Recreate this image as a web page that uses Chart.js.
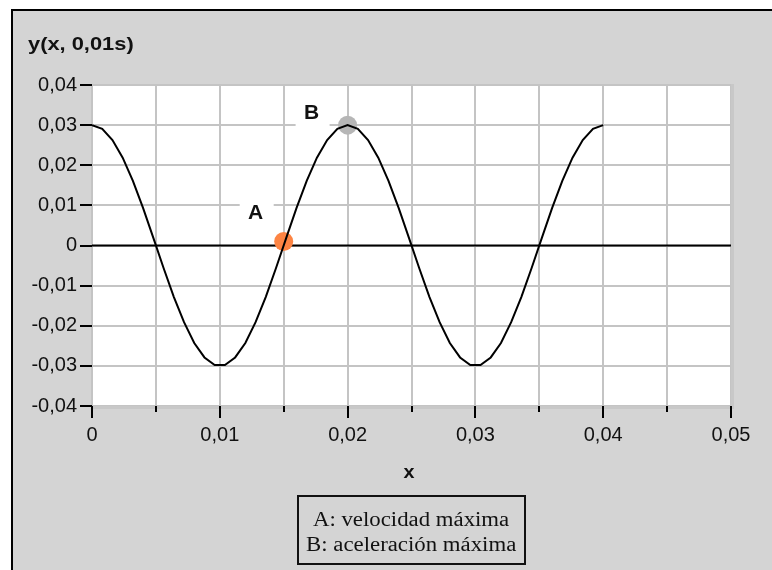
<!DOCTYPE html>
<html>
<head>
<meta charset="utf-8">
<script src="https://cdn.jsdelivr.net/npm/chart.js@4.4.1/dist/chart.umd.min.js"></script>
<style>
  html, body { margin: 0; padding: 0; background: #fff; }
  #frame { position: absolute; left: 11px; top: 9px; width: 761px; height: 561px;
           background: #d4d4d4; border-top: 2px solid #000; border-left: 2px solid #000; box-sizing: border-box; }
  #wrap { position: absolute; left: 0; top: 0; width: 772px; height: 570px; }
  .sans { font-family: "Liberation Sans", Arial, sans-serif; font-weight: bold; color: #111; position: absolute; white-space: nowrap; }
  #ytitle { left: 28px; top: 33px; font-size: 19px; transform: scaleX(1.15); transform-origin: left center; }
  #xtitle { left: 404px; top: 462px; font-size: 18px; transform: scaleX(1.1); }
  #note { position: absolute; left: 297px; top: 495px; width: 229px; height: 70px; box-sizing: border-box;
          border: 2px solid #111; padding-top: 10px; text-align: center;
          font-family: "Liberation Serif", "Times New Roman", serif; font-size: 20px; line-height: 25px; color: #111; }
  #note span { display: inline-block; transform: scaleX(1.14); white-space: nowrap; }
</style>
</head>
<body>
<div id="frame"></div>
<div id="wrap"><canvas id="waveChart"></canvas></div>
<div id="ytitle" class="sans">y(x, 0,01s)</div>
<div id="xtitle" class="sans">x</div>
<div id="note"></div>
<script>
// curve y(x, 0.01 s)
const xValues = [0, 0.0008, 0.0016, 0.0024, 0.0032, 0.004, 0.0048, 0.0056, 0.0064, 0.0072,
  0.008, 0.0088, 0.0096, 0.0104, 0.0112, 0.012, 0.0128, 0.0136, 0.0144, 0.0152,
  0.016, 0.0168, 0.0176, 0.0184, 0.0192, 0.02, 0.0208, 0.0216, 0.0224, 0.0232,
  0.024, 0.0248, 0.0256, 0.0264, 0.0272, 0.028, 0.0288, 0.0296, 0.0304, 0.0312,
  0.032, 0.0328, 0.0336, 0.0344, 0.0352, 0.036, 0.0368, 0.0376, 0.0384, 0.0392, 0.04];
const yValues = [0.03, 0.0291, 0.0263, 0.0219, 0.0161, 0.0093, 0.0019, -0.0056, -0.0128, -0.0191,
  -0.0243, -0.0279, -0.0298, -0.0298, -0.0279, -0.0243, -0.0191, -0.0128, -0.0056, 0.0019,
  0.0093, 0.0161, 0.0219, 0.0263, 0.0291, 0.03, 0.0291, 0.0263, 0.0219, 0.0161,
  0.0093, 0.0019, -0.0056, -0.0128, -0.0191, -0.0243, -0.0279, -0.0298, -0.0298, -0.0279,
  -0.0243, -0.0191, -0.0128, -0.0056, 0.0019, 0.0093, 0.0161, 0.0219, 0.0263, 0.0291, 0.03];

// marked points
const pointNames = ['A', 'B'];
const pointX = [0.015, 0.02];
const pointY = [0.001, 0.03];
const pointColors = ['#fd8443', '#b6b6b6'];

const noteLines = ['A: velocidad máxima', 'B: aceleración máxima'];

document.getElementById('note').innerHTML = noteLines.map(t => '<span>' + t + '</span>').join('<br>');

function fmt(v) {
  const m = Math.round(v * 100);
  if (m === 0) return '0';
  return (m / 100).toFixed(2).replace('.', ',');
}

const tickFont = { family: '"Liberation Sans", Arial, sans-serif', size: 20 };

const decor = {
  id: 'decor',
  beforeDraw(chart) {
    const { ctx, chartArea: a } = chart;
    ctx.save();
    ctx.fillStyle = '#fff';
    ctx.fillRect(a.left, a.top, a.right - a.left, a.bottom - a.top);
    ctx.restore();
  },
  beforeDatasetsDraw(chart) {
    const { ctx, chartArea: a, scales: { x, y } } = chart;
    ctx.save();
    // plot frame
    ctx.strokeStyle = '#c4c4c4';
    ctx.lineWidth = 2;
    ctx.strokeRect(a.left, a.top, a.right - a.left, a.bottom - a.top);
    ctx.fillStyle = '#c8c8c8';
    ctx.fillRect(a.right, a.top - 1, 3, a.bottom - a.top + 4);
    ctx.fillRect(a.left - 1, a.bottom, a.right - a.left + 4, 3);
    // zero line
    const y0 = y.getPixelForValue(0);
    ctx.strokeStyle = '#000';
    ctx.lineWidth = 2;
    ctx.beginPath();
    ctx.moveTo(a.left, y0);
    ctx.lineTo(a.right, y0);
    ctx.stroke();
    // point labels on white boxes
    const offsets = [[-28, -29], [-36, -13]];
    ctx.font = 'bold 21px "Liberation Sans", Arial, sans-serif';
    ctx.textAlign = 'center';
    ctx.textBaseline = 'middle';
    pointNames.forEach((name, i) => {
      const cx = x.getPixelForValue(pointX[i]) + offsets[i][0];
      const cy = y.getPixelForValue(pointY[i]) + offsets[i][1];
      ctx.fillStyle = '#fff';
      ctx.fillRect(cx - 16, cy - 14, 34, 28);
      ctx.fillStyle = '#111';
      ctx.fillText(name, cx, cy + 1);
    });
    ctx.restore();
  },
  afterDraw(chart) {
    const { ctx, chartArea: a, scales: { x, y } } = chart;
    ctx.save();
    ctx.strokeStyle = '#000';
    ctx.lineWidth = 2;
    ctx.beginPath();
    y.ticks.forEach(t => {
      const py = Math.round(y.getPixelForValue(t.value));
      ctx.moveTo(a.left - 12, py);
      ctx.lineTo(a.left, py);
    });
    x.ticks.forEach(t => {
      const px = Math.round(x.getPixelForValue(t.value));
      const major = Math.round(t.value * 1000) % 10 === 0;
      ctx.moveTo(px, a.bottom);
      ctx.lineTo(px, a.bottom + (major ? 12 : 6));
    });
    ctx.stroke();
    ctx.restore();
  }
};

new Chart(document.getElementById('waveChart').getContext('2d'), {
  type: 'scatter',
  data: {
    datasets: [{
      data: xValues.map((v, i) => ({ x: v, y: yValues[i] })),
      showLine: true,
      borderColor: '#000',
      borderWidth: 2,
      pointRadius: 0,
      tension: 0
    }, {
      data: pointX.map((v, i) => ({ x: v, y: pointY[i] })),
      showLine: false,
      pointRadius: 9.5,
      pointBackgroundColor: pointColors,
      pointBorderWidth: 0
    }]
  },
  options: {
    responsive: true,
    maintainAspectRatio: false,
    animation: false,
    layout: { padding: { top: 85, right: 41, bottom: 104, left: 0 } },
    plugins: { legend: { display: false }, tooltip: { enabled: false } },
    scales: {
      x: {
        type: 'linear', min: 0, max: 0.05,
        ticks: {
          stepSize: 0.005, autoSkip: false, maxRotation: 0, padding: 17,
          font: tickFont, color: '#111',
          callback: v => (Math.round(v * 1000) % 10 === 0 ? fmt(v) : '')
        },
        grid: { color: '#c4c4c4', lineWidth: 2, drawTicks: false },
        border: { display: false },
        afterFit: s => { s.height = 60; }
      },
      y: {
        min: -0.04, max: 0.04,
        ticks: { stepSize: 0.01, padding: 15, font: tickFont, color: '#111', callback: v => fmt(v) },
        grid: { color: '#c4c4c4', lineWidth: 2, drawTicks: false },
        border: { display: false },
        afterFit: s => { s.width = 92; }
      }
    }
  },
  plugins: [decor]
});
</script>
</body>
</html>
